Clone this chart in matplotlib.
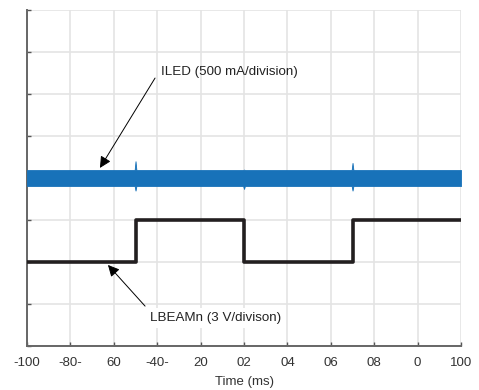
import numpy as np
import matplotlib.pyplot as plt

plt.rcParams['font.family'] = ['Liberation Sans', 'DejaVu Sans']

# ILED trace: envelope of the current band (divisions), with small glitches at the edges
iled_time = [-100, -50.4, -50, -49.6, -0.4, 0, 0.4, 49.6, 50, 50.4, 100]
iled_upper = [4.19, 4.19, 4.40, 4.19, 4.19, 4.20, 4.19, 4.19, 4.36, 4.19, 4.19]
iled_lower = [3.81, 3.81, 3.70, 3.81, 3.81, 3.74, 3.81, 3.81, 3.70, 3.81, 3.81]

# LBEAMn trace: logic level (divisions) at each edge
lbeam_time = [-100, -50, 0, 50, 100]
lbeam_level = [2, 3, 2, 3, 3]

x_ticks = [-100, -80, -60, -40, -20, 0, 20, 40, 60, 80, 100]
x_ticklabels = ['-100', '-80-', '60', '-40-', '20', '02', '04', '06', '08', '0', '100']
y_ticks = [0, 1, 2, 3, 4, 5, 6, 7, 8]

fig = plt.figure(figsize=(4.79, 3.90), dpi=100)
ax = fig.add_axes([0.0564, 0.1128, 0.9061, 0.8615])

ax.fill_between(iled_time, iled_lower, iled_upper, color='#1872b9', lw=0.6,
                edgecolor='#1872b9', zorder=3)
ax.step(lbeam_time, lbeam_level, where='post', color='#231f20', lw=2.6, zorder=3)

ax.set_xlim(-100, 100)
ax.set_ylim(0, 8)
ax.set_xticks(x_ticks)
ax.set_xticklabels(x_ticklabels)
ax.set_yticks(y_ticks)
ax.set_yticklabels([])
ax.grid(True, color='#e4e4e4', lw=1.2)
ax.set_axisbelow(True)
ax.tick_params(direction='in', length=3, width=1, color='#555555',
               labelsize=9.5, labelcolor='#333333', pad=8)
for side in ['top', 'right']:
    ax.spines[side].set_visible(False)
for side in ['left', 'bottom']:
    ax.spines[side].set_color('#666666')
    ax.spines[side].set_linewidth(1.4)
ax.set_xlabel('Time (ms)', fontsize=9.5, color='#333333', labelpad=5)

arrow = dict(arrowstyle='-|>', color='black', lw=0.7, mutation_scale=17,
             shrinkA=0, shrinkB=0)
ax.annotate('', xy=(-66.4, 4.24), xytext=(-41.0, 6.38), arrowprops=arrow, zorder=4)
ax.text(-38.3, 6.52, 'ILED (500 mA/division)', fontsize=9.6, color='#222222',
        va='center', ha='left', zorder=5)
ax.annotate('', xy=(-62.7, 1.93), xytext=(-45.6, 0.95), arrowprops=arrow, zorder=4)
ax.text(-43.3, 0.67, 'LBEAMn (3 V/divison)', fontsize=9.6, color='#222222',
        va='center', ha='left', zorder=5,
        bbox=dict(facecolor='white', edgecolor='none', pad=3))

fig.savefig('out.png', dpi=100)
